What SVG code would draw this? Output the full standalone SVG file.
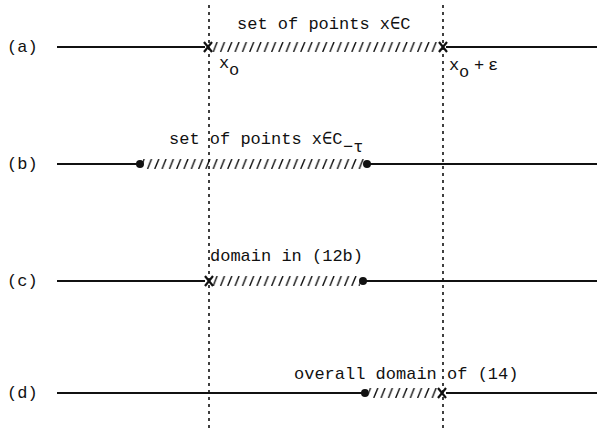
<svg xmlns="http://www.w3.org/2000/svg" width="597" height="432" viewBox="0 0 597 432">
  <defs>
    <style>
      .axis { stroke: #111; stroke-width: 2; fill: none; }
      .guide { stroke: #111; stroke-width: 1.6; stroke-dasharray: 3 4; fill: none; }
      .cross { stroke: #111; stroke-width: 2.2; fill: none; }
      .dot { fill: #111; }
      .lbl { font-family: "Liberation Mono", "DejaVu Sans Mono", monospace; font-size: 17px; fill: #111; }
      .sub { font-family: "Liberation Mono", "DejaVu Sans Mono", monospace; font-size: 17px; fill: #111; }
    </style>
    <!-- short slanted strokes used to shade an interval -->
    <pattern id="hatch" patternUnits="userSpaceOnUse" x="0" y="-5" width="7.3" height="10">
      <line x1="1.5" y1="10" x2="5.5" y2="0" stroke="#111" stroke-width="1.4"/>
    </pattern>
    <g id="xmark">
      <line class="cross" x1="-4" y1="-5" x2="4" y2="5"/>
      <line class="cross" x1="4" y1="-5" x2="-4" y2="5"/>
    </g>
  </defs>
  <rect width="597" height="432" fill="#fff"/>

  <!-- vertical reference lines at x0 and x0 + epsilon -->
  <g id="guides">
    <line class="guide" x1="209" y1="5" x2="209" y2="432"/>
    <line class="guide" x1="443" y1="5" x2="443" y2="432"/>
  </g>

  <!-- (a) -->
  <g id="row-a" transform="translate(0,47)">
    <text class="lbl" x="7" y="5">(a)</text>
    <line class="axis" x1="57" y1="0" x2="205" y2="0"/>
    <rect x="211" y="-5" width="229" height="10" fill="url(#hatch)"/>
    <line class="axis" x1="446" y1="0" x2="597" y2="0"/>
    <use href="#xmark" x="208" y="0"/>
    <use href="#xmark" x="443" y="0"/>
    <text class="lbl" x="237" y="-18">set of points x∈C</text>
    <text class="lbl" x="219" y="21">x</text>
    <text class="sub" x="229" y="28">o</text>
    <text class="lbl" x="449" y="23">x</text>
    <text class="sub" x="459" y="30">o</text>
    <text class="lbl" x="474" y="23">+</text>
    <text class="lbl" x="488" y="23">ε</text>
  </g>

  <!-- (b) -->
  <g id="row-b" transform="translate(0,164)">
    <text class="lbl" x="7" y="5">(b)</text>
    <line class="axis" x1="57" y1="0" x2="140" y2="0"/>
    <circle class="dot" cx="140" cy="0" r="4"/>
    <rect x="143" y="-5" width="221" height="10" fill="url(#hatch)"/>
    <circle class="dot" cx="367" cy="0" r="4"/>
    <line class="axis" x1="367" y1="0" x2="597" y2="0"/>
    <text class="lbl" x="169" y="-20">set of points x∈C</text>
    <text class="sub" x="343" y="-12">−τ</text>
  </g>

  <!-- (c) -->
  <g id="row-c" transform="translate(0,281)">
    <text class="lbl" x="7" y="5">(c)</text>
    <line class="axis" x1="57" y1="0" x2="205" y2="0"/>
    <rect x="212" y="-5" width="148" height="10" fill="url(#hatch)"/>
    <use href="#xmark" x="209" y="0"/>
    <circle class="dot" cx="363" cy="0" r="4"/>
    <line class="axis" x1="363" y1="0" x2="597" y2="0"/>
    <text class="lbl" x="210" y="-20">domain in (12b)</text>
  </g>

  <!-- (d) -->
  <g id="row-d" transform="translate(0,393)">
    <text class="lbl" x="7" y="5">(d)</text>
    <line class="axis" x1="57" y1="0" x2="365" y2="0"/>
    <circle class="dot" cx="365" cy="0" r="4"/>
    <rect x="369" y="-5" width="70" height="10" fill="url(#hatch)"/>
    <use href="#xmark" x="442" y="0"/>
    <line class="axis" x1="446" y1="0" x2="597" y2="0"/>
    <text class="lbl" x="294" y="-14">overall domain of (14)</text>
  </g>
</svg>
